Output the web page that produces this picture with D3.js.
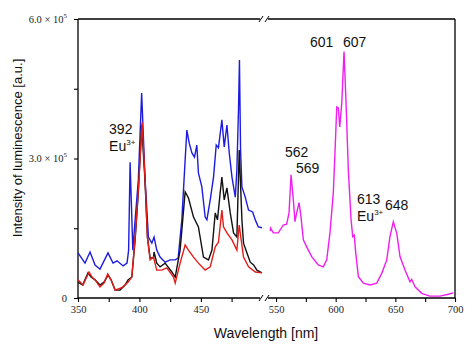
<!DOCTYPE html>
<html>
<head>
<meta charset="utf-8">
<script src="https://cdn.jsdelivr.net/npm/d3@7"></script>
<style>
  body { margin: 0; background: #fff; }
  svg { display: block; }
</style>
</head>
<body>
<div id="chart"></div>
<script>
// wavelength [nm], intensity [x 10^5]
var blueData = [[350,0.97],[355.7,0.75],[359.8,0.99],[363.9,0.71],[367.9,0.62],[374.4,0.97],[378.5,0.75],[381.8,0.80],[386.7,0.69],[389.9,0.75],[391.2,1.03],[392.4,2.92],[394.6,1.03],[396.5,1.68],[399.1,2.54],[401.8,4.41],[404.6,2.54],[407.3,1.31],[410.1,1.18],[411.9,1.31],[414.1,1.03],[416.8,0.88],[420.9,0.77],[425,0.82],[429.1,0.82],[431.5,0.86],[434.5,1.68],[437.2,2.97],[438.6,3.61],[440.5,3.33],[442.7,3.12],[444.8,3.03],[446.7,3.29],[448,2.69],[450.8,2.39],[453.5,1.74],[454.9,1.68],[457.6,2.11],[460.3,2.60],[462.5,3.29],[464.3,3.23],[467.1,3.83],[469,3.25],[471.2,3.72],[473.1,3.12],[475.3,2.60],[478,2.17],[479.3,2.75],[480.6,4.04],[481.4,5.12],[482.3,3.18],[483.4,2.39],[486.1,2.17],[488.8,1.89],[492.1,1.85],[494.3,1.68],[496.7,1.53],[499.7,1.51]];

var blackData = [[350,0.34],[353.8,0.28],[358.1,0.54],[360.6,0.45],[363.9,0.39],[367.9,0.28],[371.2,0.34],[374.4,0.49],[376.9,0.39],[380.2,0.17],[384.2,0.17],[388.3,0.28],[390.7,0.39],[393.8,0.45],[396.5,1.25],[399.1,2.28],[401.8,3.72],[404.6,2.49],[406.5,1.31],[408.7,0.86],[411.4,0.86],[411.9,0.99],[414.1,0.75],[416.8,0.67],[420.9,0.75],[426.4,0.56],[429.1,0.45],[433.1,1.03],[437.2,2.28],[439.9,2.15],[444,1.74],[448,1.53],[452.1,0.88],[456.2,0.82],[459,1.03],[461.7,1.83],[463.5,1.68],[465.7,2.26],[467.1,2.60],[469,2.11],[471.2,2.37],[473.9,1.83],[476.6,1.40],[479.3,1.31],[481.2,3.18],[483.4,1.68],[484.7,1.18],[487.5,0.97],[490.2,0.77],[492.9,0.71],[495.6,0.60],[499.7,0.54]];

var redData = [[350,0.39],[354.1,0.28],[359,0.56],[361.4,0.45],[363.9,0.39],[367.9,0.24],[371.2,0.32],[374.2,0.52],[376.9,0.39],[380.2,0.17],[385.6,0.22],[390.7,0.34],[393.8,0.45],[396.5,1.31],[399.1,2.32],[401.1,3.25],[402.2,3.78],[404.6,2.54],[406.5,1.31],[408.7,0.82],[411.4,0.88],[414.1,0.60],[418.2,0.60],[422.3,0.65],[427.7,0.45],[429.1,0.32],[433.1,0.75],[437.2,1.14],[439.9,1.03],[444,0.88],[448,0.75],[453.5,0.60],[457.6,0.67],[461.7,1.10],[464.3,1.20],[467.1,1.89],[468.4,1.53],[471.2,1.40],[475.3,1.25],[479.3,1.03],[481.2,1.57],[482.8,1.25],[484.7,0.88],[488.8,0.67],[494.3,0.56],[499.7,0.54]];

var magentaData = [[545.2,1.44],[545.5,1.50],[547.7,1.40],[551.9,1.40],[556.1,1.57],[558.9,1.59],[560.9,1.83],[562.6,2.65],[564.5,2.11],[565.9,1.64],[567.3,1.83],[569.3,2.05],[570.9,1.75],[572.9,1.25],[575.7,1.10],[579.9,0.89],[585.4,0.71],[589.6,0.67],[592.5,0.82],[595.2,1.40],[598,2.26],[599.4,3.12],[600.9,4.11],[602.2,4.09],[603.4,3.68],[605.1,4.19],[607,5.30],[608.7,4.19],[610.6,2.75],[612.9,1.68],[614.3,1.32],[615.6,1.35],[616.8,0.97],[619,0.46],[623.2,0.32],[628.8,0.28],[634.4,0.32],[638.6,0.53],[642.8,0.82],[645.5,1.32],[648.3,1.64],[651.2,1.39],[653.9,0.89],[658.1,0.60],[662.3,0.35],[663.7,0.40],[666.5,0.24],[672.1,0.10],[679,0.04],[687.4,0.04],[694.4,0.08],[698.6,0.11]];

var leftTicks = [350, 375, 400, 425, 450, 475];
var rightTicks = [550, 575, 600, 625, 650, 675, 700];
var yTicks = [0, 1.5, 3, 4.5, 6];
var yTickLabels = ["0", "", "3.0", "", "6.0"];

// peak labels: [text, wavelength at text start, value at baseline]
var peakLabels = [["392", 375.3, 3.53], ["601", 578.5, 5.40], ["607", 606.1, 5.40],
                  ["562", 557.5, 3.03], ["569", 566.7, 2.69], ["613", 617.9, 2.03], ["648", 641.3, 1.89]];
var euLabels = [[375.3, 3.16], [617.9, 1.65]];

var W = 474, H = 352;
var plotL = 78, plotR = 455, plotT = 19, plotB = 298;
var breakX = 264;

var svg = d3.select("#chart").append("svg")
    .attr("width", W).attr("height", H);

var xL = d3.scaleLinear().domain([350, 503]).range([plotL, 266]);
var xR = d3.scaleLinear().domain([541.6, 700]).range([266, plotR]);
var y = d3.scaleLinear().domain([0, 6]).range([plotB, plotT]);

function xAny(w) { return w < 520 ? xL(w) : xR(w); }

// frame with broken top/bottom lines
var frame = svg.append("g").attr("stroke", "#000").attr("stroke-width", 1.3).attr("fill", "none");
frame.append("line").attr("x1", plotL).attr("x2", plotL).attr("y1", plotT).attr("y2", plotB);
frame.append("line").attr("x1", plotR).attr("x2", plotR).attr("y1", plotT).attr("y2", plotB);
[plotT, plotB].forEach(function (yy) {
    frame.append("line").attr("x1", plotL).attr("x2", breakX - 4).attr("y1", yy).attr("y2", yy);
    frame.append("line").attr("x1", breakX + 4).attr("x2", plotR).attr("y1", yy).attr("y2", yy);
    frame.append("line").attr("x1", breakX - 5).attr("x2", breakX - 1).attr("y1", yy + 3).attr("y2", yy - 3).attr("stroke-width", 1);
    frame.append("line").attr("x1", breakX + 1).attr("x2", breakX + 5).attr("y1", yy + 3).attr("y2", yy - 3).attr("stroke-width", 1);
});

// x axes
function fmtX(d) { return d % 50 === 0 ? d : ""; }
var axL = svg.append("g").attr("transform", "translate(0," + plotB + ")")
    .call(d3.axisBottom(xL).tickValues(leftTicks).tickSize(4).tickSizeOuter(0).tickPadding(4).tickFormat(fmtX));
var axR = svg.append("g").attr("transform", "translate(0," + plotB + ")")
    .call(d3.axisBottom(xR).tickValues(rightTicks).tickSize(4).tickSizeOuter(0).tickPadding(4).tickFormat(fmtX));
[axL, axR].forEach(function (a) {
    a.select(".domain").remove();
    a.selectAll("line").attr("stroke", "#000").attr("stroke-width", 1.1);
    a.selectAll("text").attr("font-family", "Liberation Serif, serif").attr("font-size", 10.5).attr("fill", "#222");
});

// y axis
var axY = svg.append("g").attr("transform", "translate(" + plotL + ",0)")
    .call(d3.axisLeft(y).tickValues(yTicks).tickSize(4).tickSizeOuter(0).tickPadding(7).tickFormat(""));
axY.select(".domain").remove();
axY.selectAll("line").attr("stroke", "#000").attr("stroke-width", 1.1);
axY.selectAll(".tick text").each(function (d, i) {
    var t = d3.select(this)
        .attr("font-family", "Liberation Serif, serif").attr("font-size", 10.5).attr("fill", "#222");
    if (yTickLabels[i] === "0") {
        t.text("0");
    } else if (yTickLabels[i] !== "") {
        t.append("tspan").text(yTickLabels[i] + " \u00d7 10");
        t.append("tspan").attr("font-size", 7).attr("dy", -5).text("5");
    }
});

// spectra
var lineL = d3.line().x(function (d) { return xL(d[0]); }).y(function (d) { return y(d[1]); });
var lineR = d3.line().x(function (d) { return xR(d[0]); }).y(function (d) { return y(d[1]); });

svg.append("path").datum(magentaData).attr("d", lineR)
    .attr("fill", "none").attr("stroke", "#f01ef0").attr("stroke-width", 1.4);
svg.append("path").datum(blueData).attr("d", lineL)
    .attr("fill", "none").attr("stroke", "#1c1ce0").attr("stroke-width", 1.4);
svg.append("path").datum(blackData).attr("d", lineL)
    .attr("fill", "none").attr("stroke", "#111").attr("stroke-width", 1.4);
svg.append("path").datum(redData).attr("d", lineL)
    .attr("fill", "none").attr("stroke", "#e31d1a").attr("stroke-width", 1.4);

// peak annotations
var lab = svg.append("g").attr("font-family", "Liberation Sans, Arial, sans-serif")
    .attr("font-size", 14).attr("fill", "#111");
peakLabels.forEach(function (p) {
    lab.append("text").attr("x", xAny(p[1])).attr("y", y(p[2])).text(p[0]);
});
euLabels.forEach(function (p) {
    var t = lab.append("text").attr("x", xAny(p[0])).attr("y", y(p[1]));
    t.append("tspan").text("Eu");
    t.append("tspan").attr("font-size", 8).attr("dy", -6).text("3+");
});

// axis titles
svg.append("text")
    .attr("font-family", "Liberation Sans, Arial, sans-serif").attr("font-size", 14)
    .attr("text-anchor", "middle").attr("fill", "#111")
    .attr("x", 266).attr("y", 338)
    .text("Wavelength [nm]");

svg.append("text")
    .attr("font-family", "Liberation Sans, Arial, sans-serif").attr("font-size", 13)
    .attr("text-anchor", "middle").attr("fill", "#111")
    .attr("transform", "translate(22,148) rotate(-90)")
    .text("Intensity of luminescence [a.u.]");
</script>
</body>
</html>
